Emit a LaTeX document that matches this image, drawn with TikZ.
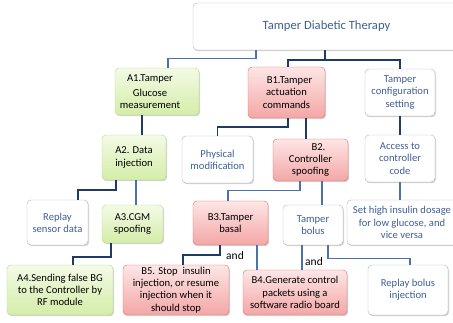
\documentclass[tikz,border=0pt]{standalone}
\usepackage{fontspec}
\setmainfont{Carlito}
\usetikzlibrary{shadows}
\definecolor{txtblue}{HTML}{3F5F95}
\definecolor{lndark}{HTML}{1F3A68}
\definecolor{lnmid}{HTML}{4A72AE}
\definecolor{gtop}{HTML}{F4FAE6}
\definecolor{gbot}{HTML}{D3EDA8}
\definecolor{gbord}{HTML}{B8DA8E}
\definecolor{ptop}{HTML}{FDE6E6}
\definecolor{pbot}{HTML}{F4A6A6}
\definecolor{pbord}{HTML}{DC6E6E}
\definecolor{wbord}{HTML}{B4B4B4}
\begin{document}
\begin{tikzpicture}[x=1pt,y=-1pt,
  box/.style={rounded corners=4pt, align=center, inner sep=1pt,
    font=\fontsize{10.6}{12.2}\selectfont,
    drop shadow={shadow xshift=1pt, shadow yshift=-1.2pt, opacity=0.35}},
  wbox/.style={box, draw=wbord, fill=white, text=txtblue},
  gbox/.style={box, draw=gbord, top color=gtop, bottom color=gbot, text=black},
  pbox/.style={box, draw=pbord, top color=ptop, bottom color=pbot, text=black},
  dk/.style={draw=lndark, line width=1.5pt},
  md/.style={draw=lnmid, line width=1.3pt},
  andlbl/.style={font=\fontsize{11.5}{13}\selectfont, text=black, inner sep=0pt}
]
\useasboundingbox (0,0) rectangle (453,323);
% nodes
\node[wbox, minimum width=267pt, minimum height=47pt, font=\fontsize{12.6}{14}\selectfont] (top) at (326.5,26.5) {Tamper Diabetic Therapy};
\node[gbox, minimum width=84pt, minimum height=47pt] (A1) at (157,91.5) {\hspace*{-14pt}A1.Tamper\\[3pt]\hspace*{-14pt}Glucose\\\hspace*{-14pt}measurement};
\node[pbox, minimum width=77pt, minimum height=51pt] (B1) at (286.5,92.5) {\hspace*{6pt}B1.Tamper\\actuation\\commands};
\node[wbox, minimum width=70pt, minimum height=47pt] (cfg) at (400,92.5) {Tamper\\configuration\\setting};
\node[gbox, minimum width=64pt, minimum height=45pt] (A2) at (134,157.5) {A2. Data\\injection};
\node[wbox, minimum width=71pt, minimum height=47pt] (phys) at (217.5,159.5) {Physical\\modification};
\node[pbox, minimum width=75pt, minimum height=42pt] (B2) at (310.5,160) {\hspace*{16pt}B2.\\Controller\\spoofing};
\node[wbox, minimum width=70pt, minimum height=47pt] (acc) at (400,158.5) {Access to\\controller\\code};
\node[wbox, minimum width=61pt, minimum height=45pt] (rep) at (57.5,222.5) {Replay\\sensor data};
\node[gbox, minimum width=61pt, minimum height=38pt] (A3) at (132.5,224) {A3.CGM\\spoofing};
\node[pbox, minimum width=75pt, minimum height=44pt] (B3) at (230.5,223) {B3.Tamper\\basal};
\node[wbox, minimum width=60pt, minimum height=40pt] (bol) at (313,225) {Tamper\\bolus};
\node[wbox, minimum width=110pt, minimum height=45pt] (set) at (402,222.5) {Set high insulin dosage\\for low glucose, and\\vice versa};
\node[gbox, minimum width=106pt, minimum height=50pt] (A4) at (60,290) {A4.Sending false BG\\to the Controller by\\RF module};
\node[pbox, minimum width=106pt, minimum height=50pt] (B5) at (176,290) {B5. Stop\ \ insulin\\injection, or resume\\injection when it\\should stop};
\node[pbox, minimum width=104pt, minimum height=45pt] (B4) at (295,292.5) {B4.Generate control\\packets using a\\software radio board};
\node[wbox, minimum width=80pt, minimum height=50pt] (rb) at (408,290) {Replay bolus\\injection};
% connectors
\draw[md] (top.south -| 256,0) -- ++(0,8) -| (A1.north -| 168,0);
\draw[dk] (top.south -| 325,0) -- ++(0,10) -| (B1.north -| 288,0);
\draw[dk] (top.south -| 325,0) -- ++(0,10) -| (cfg.north);
\draw[dk] (A1.south -| 142,0) -- (A2.north -| 142,0);
\draw[dk] (B1.south -| 288,0) -- ++(0,9) -| (phys.north);
\draw[dk] (B1.south -| 306,0) -- (B2.north -| 306,0);
\draw[dk] (cfg.south) -- (acc.north);
\draw[dk] (A2.south -| 116,0) -- ++(0,10) -| (rep.north -| 78,0);
\draw[md] (A2.south -| 136,0) -- (A3.north -| 136,0);
\draw[md] (B2.south -| 300,0) -- ++(0,9) -| (B3.north -| 228,0);
\draw[md] (B2.south -| 322,0) -- (bol.north -| 322,0);
\draw[md] (acc.south) -- (set.north -| acc.south);
\draw[dk] (A3.south -| 111,0) -- ++(0,14) -| (A4.north -| 73,0);
\draw[dk] (B3.south -| 220,0) -- ++(0,10) -| (B5.north -| 183,0);
\draw[md] (B3.south -| 257,0) -- (B4.north -| 257,0);
\draw[md] (bol.south -| 302,0) -- (B4.north -| 302,0);
\draw[md] (bol.south -| 328,0) -- ++(0,13) -| (rb.north -| 410,0);
\node[andlbl] (and1) at (235,256) {and};
\node[andlbl] (and2) at (314,262) {and};
\end{tikzpicture}
\end{document}
